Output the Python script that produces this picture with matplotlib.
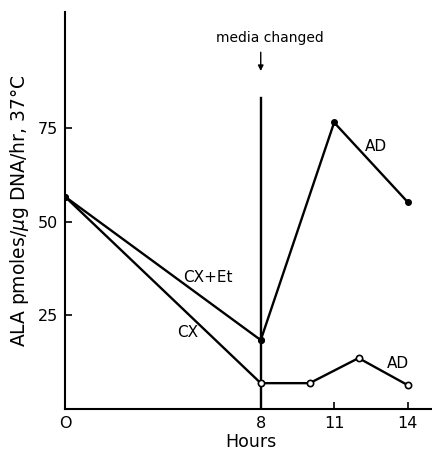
import matplotlib
matplotlib.use("Agg")
import matplotlib.pyplot as plt

# Data
cx_et_hours = [0, 8]
cx_et_vals = [56.7, 18.4]
ad_filled_hours = [8, 11, 14]
ad_filled_vals = [18.4, 76.5, 55.3]
cx_hours = [0, 8]
cx_vals = [56.7, 6.9]
ad_open_hours = [8, 10, 12, 14]
ad_open_vals = [6.9, 6.9, 13.6, 6.4]
xticks = [0, 8, 11, 14]
xticklabels = ["O", "8", "11", "14"]
yticks = [25, 50, 75]

plt.rcParams['font.family'] = ['DejaVu Sans']
fig = plt.figure(figsize=(4.32, 4.51), dpi=100)
W, H = 432, 451
left, bottom, right, top = 65, 409, 432, 12
ax = fig.add_axes([left / W, (H - bottom) / H, (right - left) / W, (bottom - top) / H])
ax.set_xlim(0, 15)
ax.set_ylim(0, 106)

lw = 1.7
ax.plot(cx_et_hours, cx_et_vals, color='black', lw=lw, marker='o', ms=4, mfc='black')
ax.plot(ad_filled_hours, ad_filled_vals, color='black', lw=lw, marker='o', ms=4, mfc='black')
ax.plot(cx_hours, cx_vals, color='black', lw=lw)
ax.plot(ad_open_hours, ad_open_vals, color='black', lw=lw, marker='o', ms=4.5,
        mfc='white', mec='black', mew=1.2, zorder=3)
ax.plot([0], [56.7], marker='o', ms=4, color='black')

# media changed line and arrow
ax.plot([8, 8], [0, 83], color='black', lw=lw, zorder=1)
ax.annotate('', xy=(8, 89.5), xytext=(8, 96),
            arrowprops=dict(arrowstyle='-|>', color='black', lw=1.0, mutation_scale=8))
ax.text(8.38, 99, 'media changed', ha='center', va='center', fontsize=10)

ax.text(5.85, 35, 'CX+Et', ha='center', va='center', fontsize=11)
ax.text(5.0, 20.3, 'CX', ha='center', va='center', fontsize=11)
ax.text(12.7, 70, 'AD', ha='center', va='center', fontsize=11)
ax.text(13.6, 12.2, 'AD', ha='center', va='center', fontsize=11)

for s in ['top', 'right']:
    ax.spines[s].set_visible(False)
for s in ['left', 'bottom']:
    ax.spines[s].set_linewidth(1.5)

ax.set_xticks(xticks)
ax.set_xticklabels(xticklabels, fontsize=11.5)
ax.set_yticks(yticks)
ax.set_yticklabels([str(v) for v in yticks], fontsize=11.5)
ax.tick_params(axis='both', direction='in', length=5, width=1.2, pad=5)

ax.set_ylabel('ALA pmoles/$\\mu$g DNA/hr, 37°C', fontsize=13.5)
ax.yaxis.set_label_coords((31 - left) / (right - left), 0.5)
fig.text(251 / W, 1 - 442 / H, 'Hours', ha='center', va='center', fontsize=12.5)

fig.savefig('out.png', dpi=100)
